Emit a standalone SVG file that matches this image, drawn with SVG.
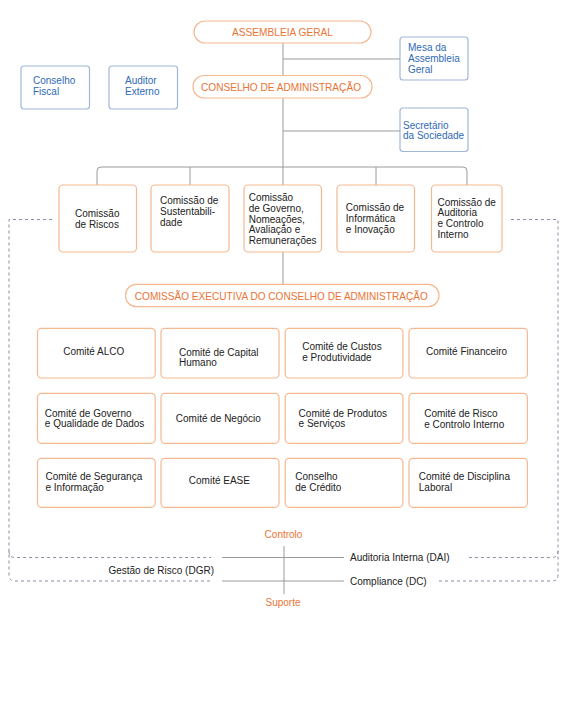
<svg xmlns="http://www.w3.org/2000/svg" width="565" height="712" viewBox="0 0 565 712">
<style>
text{font-family:"Liberation Sans",Arial,sans-serif;font-size:10px;fill:#222}
.ob{fill:#fff;stroke:#f6b891;stroke-width:1.2}
.bb{fill:#fff;stroke:#9fb7d8;stroke-width:1.2}
.pill{fill:#fff;stroke:#f6b891;stroke-width:1.2}
.pt{fill:#ea7434;font-size:11.5px;text-anchor:middle}
.bt{fill:#2f6ab3}
.ln{fill:none;stroke:#9a9a9a;stroke-width:1}
.ds{fill:none;stroke:#8c8ca6;stroke-width:1;stroke-dasharray:3 3}
.or{fill:#ea7434;text-anchor:middle}
</style>
<rect width="565" height="712" fill="#fff"/>
<g id="connectors">
<path class="ln" d="M283,43 V75 M283,59 H400 M283,98 V185 M283,131 H400"/>
<path class="ln" d="M97,185 V171 Q97,167 101,167 H463 Q467,167 467,171 V185 M190,167 V185 M376,167 V185"/>
<path class="ln" d="M283,252 V284"/>
<path class="ln" d="M222,557.5 H344 M222,581 H344 M284,546 V594"/>
<path class="ds" d="M52,219.5 H9 V575 Q9,581 15,581 H211 M9,551 Q9,557.5 15,557.5 H211"/>
<path class="ds" d="M511,219.5 H558 V575 Q558,581 552,581 H439 M558,551 Q558,557.5 552,557.5 H469"/>
</g>
<g id="assembleia"><rect class="pill" x="194" y="21" width="177" height="22" rx="11"/><text class="pt" x="282.5" y="36.3" textLength="101" lengthAdjust="spacingAndGlyphs">ASSEMBLEIA GERAL</text></g>
<g id="mesa"><rect class="bb" x="400" y="37" width="68" height="43" rx="3"/><text class="bt" x="408" y="51.3">Mesa da</text><text class="bt" x="408" y="62.3">Assembleia</text><text class="bt" x="408" y="73.3">Geral</text></g>
<g id="fiscal"><rect class="bb" x="21" y="66" width="68.5" height="43" rx="3"/><text class="bt" x="33" y="84.2">Conselho</text><text class="bt" x="33" y="94.6">Fiscal</text></g>
<g id="auditor"><rect class="bb" x="109" y="66" width="68.5" height="43" rx="3"/><text class="bt" x="125" y="84.2">Auditor</text><text class="bt" x="125" y="94.6">Externo</text></g>
<g id="conselho-adm"><rect class="pill" x="193" y="75.5" width="179" height="22.5" rx="11"/><text class="pt" x="281" y="90.5" textLength="160" lengthAdjust="spacingAndGlyphs">CONSELHO DE ADMINISTRAÇÃO</text></g>
<g id="secretario"><rect class="bb" x="400" y="108" width="68" height="43.5" rx="3"/><text class="bt" x="403" y="128.5">Secretário</text><text class="bt" x="403" y="139.2">da Sociedade</text></g>
<g id="c-riscos"><rect class="ob" x="59" y="185" width="77.5" height="67" rx="4"/><text x="75" y="216.8">Comissão</text><text x="75" y="227.8">de Riscos</text></g>
<g id="c-sust"><rect class="ob" x="151" y="185" width="78" height="67" rx="4"/><text x="160" y="204.2">Comissão de</text><text x="160" y="214.8">Sustentabili-</text><text x="160" y="225.8">dade</text></g>
<g id="c-gov"><rect class="ob" x="244" y="185" width="77.5" height="67" rx="4"/><text x="248.7" y="200.8">Comissão</text><text x="248.7" y="211.8">de Governo,</text><text x="248.7" y="222.5">Nomeações,</text><text x="248.7" y="233.2">Avaliação e</text><text x="248.7" y="243.8">Remunerações</text></g>
<g id="c-inf"><rect class="ob" x="337" y="185" width="77.5" height="67" rx="4"/><text x="345.8" y="211.2">Comissão de</text><text x="345.8" y="221.8">Informática</text><text x="345.8" y="232.5">e Inovação</text></g>
<g id="c-aud"><rect class="ob" x="431.5" y="185" width="70.5" height="67" rx="4"/><text x="437.5" y="205.5">Comissão de</text><text x="437.5" y="216.2">Auditoria</text><text x="437.5" y="227.2">e Controlo</text><text x="437.5" y="237.8">Interno</text></g>
<g id="exec"><rect class="pill" x="125.5" y="284.3" width="313.5" height="22.4" rx="11"/><text class="pt" x="281.3" y="299.9" textLength="293" lengthAdjust="spacingAndGlyphs">COMISSÃO EXECUTIVA DO CONSELHO DE ADMINISTRAÇÃO</text></g>
<g id="alco"><rect class="ob" x="37.5" y="328.3" width="117.7" height="49.7" rx="4"/><text x="63.2" y="355.2">Comité ALCO</text></g>
<g id="capital"><rect class="ob" x="161" y="328.3" width="118" height="49.7" rx="4"/><text x="179" y="355.5">Comité de Capital</text><text x="179" y="366.2">Humano</text></g>
<g id="custos"><rect class="ob" x="285.2" y="328.3" width="117.7" height="49.7" rx="4"/><text x="302.2" y="350.2">Comité de Custos</text><text x="302.2" y="361.2">e Produtividade</text></g>
<g id="financeiro"><rect class="ob" x="409" y="328.3" width="118.4" height="49.7" rx="4"/><text x="426" y="355.2">Comité Financeiro</text></g>
<g id="dados"><rect class="ob" x="37.5" y="393.3" width="117.7" height="50" rx="4"/><text x="44.8" y="416.8">Comité de Governo</text><text x="44.8" y="427.2">e Qualidade de Dados</text></g>
<g id="negocio"><rect class="ob" x="161" y="393.3" width="118" height="50" rx="4"/><text x="175.8" y="421.8">Comité de Negócio</text></g>
<g id="produtos"><rect class="ob" x="285.2" y="393.3" width="117.7" height="50" rx="4"/><text x="298.6" y="416.8">Comité de Produtos</text><text x="298.6" y="427.2">e Serviços</text></g>
<g id="risco"><rect class="ob" x="409" y="393.3" width="118.4" height="50" rx="4"/><text x="424.2" y="417.2">Comité de Risco</text><text x="424.2" y="427.5">e Controlo Interno</text></g>
<g id="seguranca"><rect class="ob" x="37.5" y="458.3" width="117.7" height="49" rx="4"/><text x="45.5" y="480.2">Comité de Segurança</text><text x="45.5" y="490.8">e Informação</text></g>
<g id="ease"><rect class="ob" x="161" y="458.3" width="118" height="49" rx="4"/><text x="188.8" y="484.2">Comité EASE</text></g>
<g id="credito"><rect class="ob" x="285.2" y="458.3" width="117.7" height="49" rx="4"/><text x="295.3" y="480.2">Conselho</text><text x="295.3" y="490.8">de Crédito</text></g>
<g id="disciplina"><rect class="ob" x="409" y="458.3" width="118.4" height="49" rx="4"/><text x="418.8" y="479.8">Comité de Disciplina</text><text x="418.8" y="490.5">Laboral</text></g>
<g id="labels">
<text class="or" x="283.5" y="538.3">Controlo</text>
<text class="or" x="283" y="605.8">Suporte</text>
<text x="350" y="561">Auditoria Interna (DAI)</text>
<text x="350" y="584.6">Compliance (DC)</text>
<text x="214" y="573.5" text-anchor="end">Gestão de Risco (DGR)</text>
</g>
</svg>
